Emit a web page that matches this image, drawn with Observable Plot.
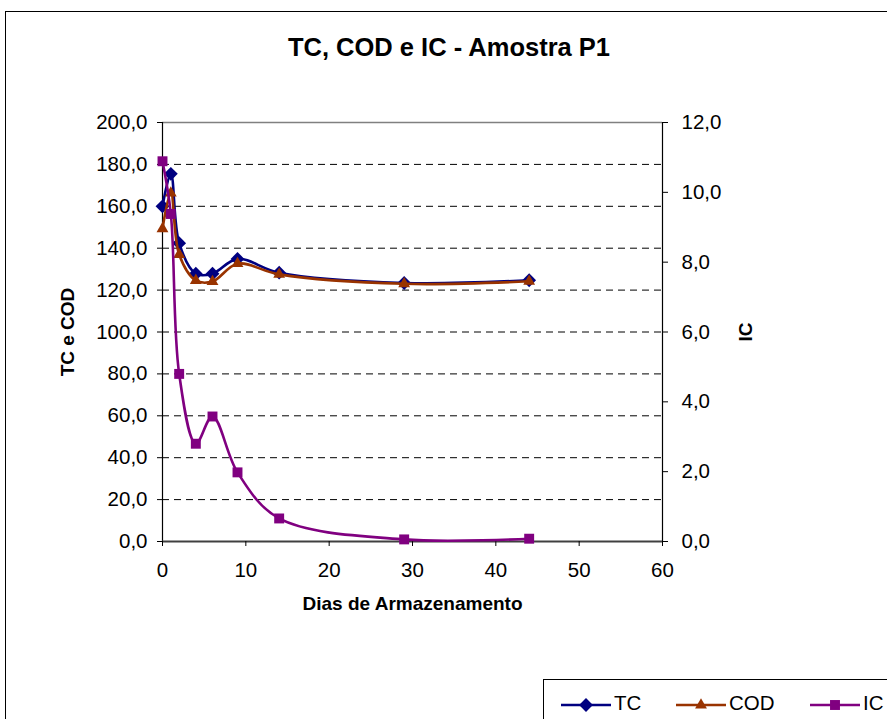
<!DOCTYPE html>
<html><head><meta charset="utf-8">
<script src="https://cdn.jsdelivr.net/npm/d3@7"></script>
<script src="https://cdn.jsdelivr.net/npm/@observablehq/plot@0.6"></script>
<style>
body{margin:0;overflow:hidden;background:#fff;font-family:"Liberation Sans",Arial,sans-serif;}
#wrap{position:relative;width:887px;height:719px;overflow:hidden;background:#fff;}
#frame{position:absolute;left:5px;top:11px;width:1000px;height:800px;border:1px solid #000;}
#title{position:absolute;left:0;width:898px;top:32px;text-align:center;font-weight:bold;font-size:25.5px;line-height:30px;}
#chart{position:absolute;left:0;top:0;}
#legend{position:absolute;left:543px;top:679px;width:400px;height:100px;border:1px solid #000;background:#fff;}
.li{position:absolute;top:10px;height:26px;font-size:20.5px;line-height:26px;white-space:nowrap;}
.li svg{vertical-align:middle;}
[aria-label="x-axis label"],[aria-label="y-axis label"]{font-weight:bold;font-size:19px;}
</style></head>
<body>
<div id="wrap">
  <div id="frame"></div>
  <div id="chart"></div>
  <div id="title">TC, COD e IC - Amostra P1</div>
  <div id="legend"></div>
</div>
<script>
const days = [0, 1, 2, 4, 6, 9, 14, 29, 44];
const tc   = [160.0, 175.5, 142.4, 127.8, 127.8, 134.9, 128.3, 123.4, 124.7];
const cod  = [149.3, 166.3, 137.0, 124.6, 124.1, 132.6, 127.5, 123.0, 124.2];
const ic   = [10.89, 9.38, 4.80, 2.80, 3.58, 1.98, 0.66, 0.06, 0.08];
const seriesNames  = ["TC", "COD", "IC"];
const seriesColors = ["#000080", "#993300", "#800080"];
const xTicks     = [0, 10, 20, 30, 40, 50, 60];
const leftTicks  = [0, 20, 40, 60, 80, 100, 120, 140, 160, 180, 200];
const rightTicks = [0, 2, 4, 6, 8, 10, 12];
const leftMax = 200, rightMax = 12;
const K = leftMax / rightMax;

const fmt = d => d3.format(".1f")(d).replace(".", ",");

const diamondSym = {draw(ctx, size){ const r = Math.sqrt(size) * 0.75; ctx.moveTo(0,-r); ctx.lineTo(r,0); ctx.lineTo(0,r); ctx.lineTo(-r,0); ctx.closePath(); }};
const symbols = [diamondSym, "triangle", "square"];
const radii = [5.2, 4.4, 5.6];

const rowsTC  = days.map((d,i)=>({day:d, v:tc[i]}));
const rowsCOD = days.map((d,i)=>({day:d, v:cod[i]}));
const rowsIC  = days.map((d,i)=>({day:d, v:ic[i]*K}));
const allRows = [rowsTC, rowsCOD, rowsIC];

const gridVals = leftTicks.filter(v => v > 0 && v < leftMax);

const marks = [
  Plot.ruleY(gridVals, {stroke:"#000", strokeDasharray:"7,5", strokeWidth:1}),
  Plot.ruleY([leftMax], {stroke:"#808080", strokeWidth:1.5}),
  Plot.ruleX([0], {stroke:"#000", strokeWidth:1.2}),
  Plot.ruleX([60], {stroke:"#000", strokeWidth:1.2}),
  Plot.ruleY([0], {stroke:"#404040", strokeWidth:2}),
  Plot.axisX({ticks:xTicks, tickSize:5, tickPadding:16, tickFormat:d=>String(d),
    label:"Dias de Armazenamento", labelAnchor:"center", labelArrow:"none", labelOffset:68}),
  Plot.axisY({ticks:leftTicks, tickSize:5, tickPadding:10, tickFormat:fmt,
    label:"TC e COD", labelAnchor:"center", labelArrow:"none", labelOffset:102}),
  Plot.axisY({anchor:"right", ticks:rightTicks.map(v=>v*K), tickSize:5, tickPadding:14,
    tickFormat:d=>fmt(d/K), label:"IC", labelAnchor:"center", labelArrow:"none", labelOffset:89})
];
allRows.forEach((rows, k) => {
  marks.push(Plot.line(rows, {x:"day", y:"v", stroke:seriesColors[k], strokeWidth:2.6, curve:"catmull-rom"}));
  marks.push(Plot.dot(rows, {x:"day", y:"v", fill:seriesColors[k], stroke:"none", symbol:()=>symbols[k], r:radii[k]}));
});

const chart = Plot.plot({
  width:887, height:640,
  marginLeft:162, marginRight:225, marginTop:122, marginBottom:99,
  x:{domain:[0,60]}, y:{domain:[0,leftMax]},
  style:{fontFamily:'"Liberation Sans", Arial, sans-serif', fontSize:"20.5px", color:"#000", background:"transparent", overflow:"visible"},
  marks
});
document.getElementById("chart").appendChild(chart);

// legend
const legend = document.getElementById("legend");
const legLeft = [17, 132, 266];
seriesNames.forEach((name, k) => {
  const div = document.createElement("div");
  div.className = "li";
  div.style.left = legLeft[k] + "px";
  const sym = symbols[k];
  const r = radii[k];
  const symObj = typeof sym === "string" ? (sym === "triangle" ? d3.symbolTriangle : d3.symbolSquare) : sym;
  const path = d3.symbol(symObj, Math.PI * r * r)();
  div.innerHTML = `<svg width="52" height="26"><line x1="0" x2="50" y1="13" y2="13" stroke="${seriesColors[k]}" stroke-width="2.6"/><path d="${path}" transform="translate(25,13)" fill="${seriesColors[k]}"/></svg><span style="margin-left:1px">${name}</span>`;
  legend.appendChild(div);
});
</script>
</body></html>
